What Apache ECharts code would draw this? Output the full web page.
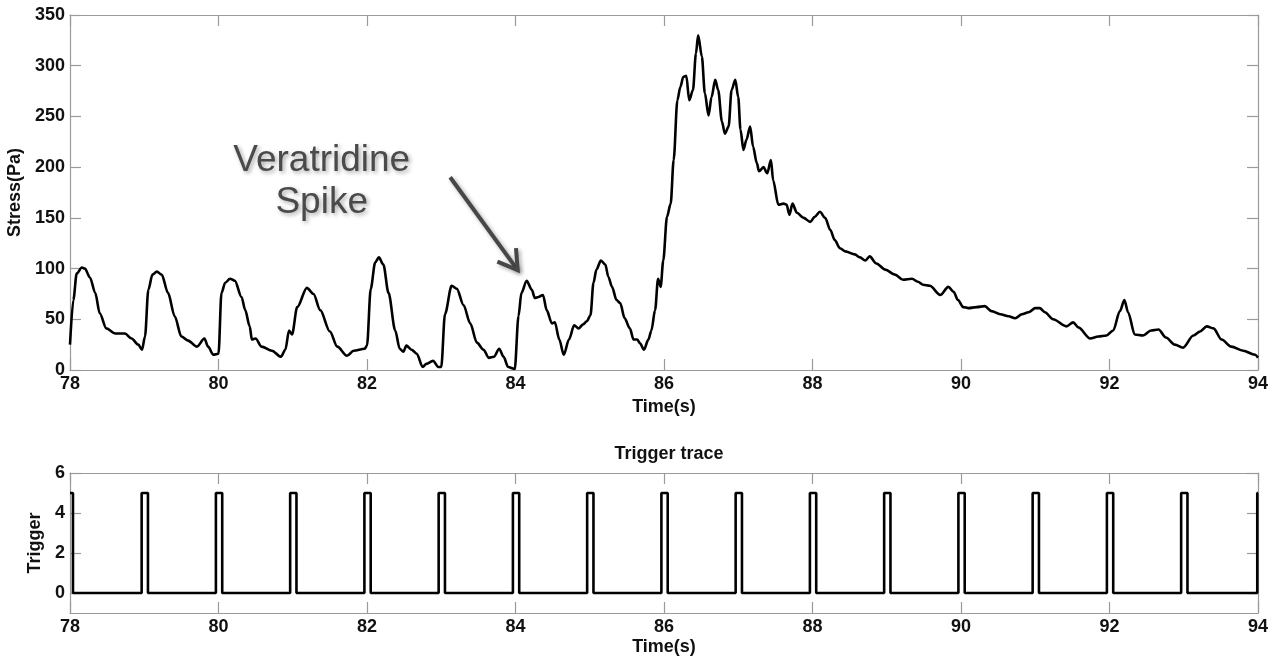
<!DOCTYPE html>
<html>
<head>
<meta charset="utf-8">
<script src="https://cdn.jsdelivr.net/npm/echarts@6/dist/echarts.min.js"></script>
<style>
html,body{margin:0;padding:0;background:#fff;}
#chart{width:1275px;height:661px;}
</style>
</head>
<body>
<div id="chart"></div>
<script>
// ---- data ----
const timeS = [78.00,78.045,78.09,78.16,78.20,78.27,78.34,78.40,78.49,78.61,78.74,78.83,78.92,78.97,
79.01,79.055,79.11,79.17,79.235,79.32,79.41,79.50,79.59,79.71,79.81,79.86,79.93,
80.00,80.04,80.09,80.155,80.22,80.31,80.36,80.42,80.45,80.50,80.58,80.72,80.84,80.90,80.95,80.99,
81.06,81.19,81.28,81.37,81.50,81.60,81.73,81.82,81.97,
82.00,82.05,82.11,82.16,82.22,82.29,82.38,82.44,82.49,82.53,82.60,82.67,82.75,82.80,82.89,82.96,
83.00,83.05,83.14,83.21,83.30,83.39,83.48,83.57,83.64,83.71,83.78,83.84,83.90,83.99,
84.04,84.08,84.15,84.22,84.26,84.31,84.37,84.42,84.49,84.53,84.59,84.65,84.72,84.79,84.85,84.91,84.96,
85.01,85.05,85.09,85.15,85.21,85.25,85.30,85.36,85.41,85.47,85.54,85.59,85.64,85.68,85.73,85.79,85.83,85.88,85.92,85.955,85.99,
86.04,86.09,86.13,86.18,86.22,86.26,86.30,86.34,86.39,86.43,86.46,86.51,86.55,86.60,86.64,86.69,86.73,86.78,86.82,86.87,86.91,86.96,
87.00,87.03,87.07,87.11,87.16,87.20,87.25,87.28,87.34,87.39,87.44,87.47,87.54,87.61,87.65,87.69,87.73,87.79,87.88,87.97,
88.03,88.10,88.17,88.24,88.30,88.37,88.44,88.57,88.64,88.71,88.77,88.86,88.98,
89.11,89.22,89.34,89.42,89.49,89.58,89.72,89.83,89.90,89.96,
90.03,90.10,90.21,90.32,90.41,90.53,90.64,90.73,90.82,90.91,
91.00,91.06,91.13,91.24,91.42,91.51,91.58,91.74,91.85,91.96,
92.05,92.14,92.20,92.25,92.34,92.45,92.56,92.66,92.76,92.88,92.99,
93.13,93.22,93.31,93.40,93.51,93.64,93.80,93.96,94.00];

const stressPa = [25,69,95,101,100,91,76,56,41,36,36,31,25,20,
33,79,94,97,94,76,53,33,29,23,31,23,15,
16,76,86,90,88,72,59,43,30,31,23,19,13,20,39,35,
62,81,75,59,38,23,14,19,21,
24,80,106,111,104,76,39,21,18,24,20,16,3,6,9,3,
3,55,83,80,64,46,27,20,12,13,21,13,3,1,
53,76,88,79,71,72,74,59,46,47,30,15,30,44,41,45,48,
54,86,99,108,104,92,82,69,66,51,41,30,30,26,20,30,39,59,90,82,108,
151,164,207,266,279,289,290,266,276,312,330,309,273,251,269,286,276,245,233,240,276,286,
269,237,217,227,240,220,204,196,200,194,207,187,163,164,163,153,164,155,150,146,
151,156,150,138,128,120,117,114,111,108,112,105,99,
94,89,90,87,84,83,74,82,77,69,
62,61,62,63,58,55,53,51,55,57,
61,61,57,50,43,47,42,31,33,34,
39,58,69,57,35,34,39,40,32,25,22,
34,38,43,41,30,23,19,15,12];

const trigTime = [78.00,78.04,78.04,
78.965,78.965,79.05,79.05,
79.965,79.965,80.05,80.05,
80.965,80.965,81.05,81.05,
81.965,81.965,82.05,82.05,
82.965,82.965,83.05,83.05,
83.965,83.965,84.05,84.05,
84.965,84.965,85.05,85.05,
85.965,85.965,86.05,86.05,
86.965,86.965,87.05,87.05,
87.965,87.965,88.05,88.05,
88.965,88.965,89.05,89.05,
89.965,89.965,90.05,90.05,
90.965,90.965,91.05,91.05,
91.965,91.965,92.05,92.05,
92.965,92.965,93.05,93.05,
93.99,93.99,94.00];

const trigLevel = [5,5,0,
0,5,5,0, 0,5,5,0, 0,5,5,0, 0,5,5,0, 0,5,5,0,
0,5,5,0, 0,5,5,0, 0,5,5,0, 0,5,5,0, 0,5,5,0,
0,5,5,0, 0,5,5,0, 0,5,5,0, 0,5,5,0, 0,5,5,0,
0,5,5];

const trigTickValues = [0,2,4,6];
const annotationLines = ['Veratridine','Spike'];
const arrowFrom = [83.12, 190];
const arrowTo = [84.03, 98.5];
const annotationAnchor = [81.39, 186];

// ---- chart ----
const FONT = '"Liberation Sans", Arial, Helvetica, sans-serif';
const AX = '#9a9a9a';
const lbl = {fontFamily: FONT, fontSize: 18, fontWeight: 'bold', color: '#111'};

function xAx(grid, pos, labels) {
  return {
    type: 'value', gridIndex: grid, position: pos, min: 78, max: 94, interval: 2,
    axisLine: {show: true, onZero: false, lineStyle: {color: AX, width: 1.2}},
    axisTick: {show: true, inside: true, length: 11, lineStyle: {color: AX, width: 1.2}},
    axisLabel: labels ? Object.assign({show: true, margin: 5}, lbl) : {show: false},
    splitLine: {show: false},
    name: labels ? 'Time(s)' : '', nameLocation: 'middle', nameGap: 25,
    nameTextStyle: lbl
  };
}

const stressData = timeS.map((t, i) => [t, stressPa[i]]);
const trigData = trigTime.map((t, i) => [t, trigLevel[i]]);

const chart = echarts.init(document.getElementById('chart'), null, {renderer: 'canvas'});
chart.setOption({
  animation: false,
  backgroundColor: '#fff',
  title: {
    text: 'Trigger trace', left: 664, top: 440, textAlign: 'center',
    textStyle: {fontFamily: FONT, fontSize: 18, fontWeight: 'bold', color: '#111'}
  },
  grid: [
    {left: 70, right: 17, top: 15, height: 355, containLabel: false, outerBoundsMode: 'none'},
    {left: 70, right: 17, top: 473, height: 140, containLabel: false, outerBoundsMode: 'none'}
  ],
  xAxis: [xAx(0, 'bottom', true), xAx(0, 'top', false), xAx(1, 'bottom', true), xAx(1, 'top', false)],
  yAxis: [
    {type: 'value', gridIndex: 0, position: 'left', min: 0, max: 350, interval: 50,
     axisLine: {show: true, onZero: false, lineStyle: {color: AX, width: 1.2}},
     axisTick: {show: true, inside: true, length: 11, lineStyle: {color: AX, width: 1.2}},
     axisLabel: Object.assign({margin: 5}, lbl), splitLine: {show: false},
     name: 'Stress(Pa)', nameLocation: 'middle', nameGap: 45, nameTextStyle: lbl},
    {type: 'value', gridIndex: 0, position: 'right', min: 0, max: 350, interval: 50,
     axisLine: {show: true, onZero: false, lineStyle: {color: AX, width: 1.2}},
     axisTick: {show: true, inside: true, length: 11, lineStyle: {color: AX, width: 1.2}},
     axisLabel: {show: false}, splitLine: {show: false}},
    {type: 'value', gridIndex: 1, position: 'left', min: -1, max: 6,
     axisLine: {show: true, onZero: false, lineStyle: {color: AX, width: 1.2}},
     axisTick: {show: true, inside: true, length: 11, customValues: trigTickValues, lineStyle: {color: AX, width: 1.2}},
     axisLabel: Object.assign({margin: 5, customValues: trigTickValues}, lbl), splitLine: {show: false},
     name: 'Trigger', nameLocation: 'middle', nameGap: 22, nameTextStyle: lbl},
    {type: 'value', gridIndex: 1, position: 'right', min: -1, max: 6,
     axisLine: {show: true, onZero: false, lineStyle: {color: AX, width: 1.2}},
     axisTick: {show: true, inside: true, length: 11, customValues: trigTickValues, lineStyle: {color: AX, width: 1.2}},
     axisLabel: {show: false, customValues: trigTickValues}, splitLine: {show: false}}
  ],
  series: [
    {type: 'line', xAxisIndex: 0, yAxisIndex: 0, data: stressData, showSymbol: false,
     smooth: 0.3, smoothMonotone: 'x',
     lineStyle: {color: '#000', width: 2.6}, z: 5},
    {type: 'line', xAxisIndex: 2, yAxisIndex: 2, data: trigData, showSymbol: false,
     lineStyle: {color: '#000', width: 2.6}, z: 5}
  ]
});

// annotation (text + arrow) anchored to data coordinates
const p0 = chart.convertToPixel({xAxisIndex: 0, yAxisIndex: 0}, arrowFrom);
const p1 = chart.convertToPixel({xAxisIndex: 0, yAxisIndex: 0}, arrowTo);
const pt = chart.convertToPixel({xAxisIndex: 0, yAxisIndex: 0}, annotationAnchor);
const ang = Math.atan2(p1[1] - p0[1], p1[0] - p0[0]);
const head = 22, spread = 0.55;
const h1 = [p1[0] - head * Math.cos(ang - spread), p1[1] - head * Math.sin(ang - spread)];
const h2 = [p1[0] - head * Math.cos(ang + spread), p1[1] - head * Math.sin(ang + spread)];
const shadow = {shadowColor: 'rgba(0,0,0,0.35)', shadowBlur: 4, shadowOffsetX: 2, shadowOffsetY: 2};
chart.setOption({
  graphic: [
    {type: 'text', x: pt[0], y: pt[1], z: 10,
     style: Object.assign({text: annotationLines.join('\n'), fontFamily: FONT, fontSize: 37,
       lineHeight: 42, fill: '#4a4a4a', align: 'center', verticalAlign: 'middle',
       textShadowColor: 'rgba(0,0,0,0.35)', textShadowBlur: 4, textShadowOffsetX: 2, textShadowOffsetY: 2})},
    {type: 'polyline', z: 10, shape: {points: [p0, p1]},
     style: Object.assign({stroke: '#474747', lineWidth: 4, fill: null}, shadow)},
    {type: 'polyline', z: 10, shape: {points: [h1, p1, h2]},
     style: Object.assign({stroke: '#474747', lineWidth: 4, fill: null, lineJoin: 'miter'}, shadow)}
  ]
});
</script>
</body>
</html>
